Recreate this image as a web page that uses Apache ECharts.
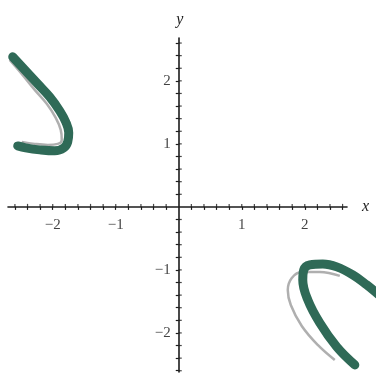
<!DOCTYPE html>
<html>
<head>
<meta charset="utf-8">
<script src="https://cdn.jsdelivr.net/npm/echarts@6/dist/echarts.min.js"></script>
<style>
  html, body { margin: 0; padding: 0; background: #ffffff; }
  #chart { width: 376px; height: 380px; }
</style>
</head>
<body>
<div id="chart"></div>
<script>
// Axis ranges
const xRange = [-2.71, 2.67];
const yRange = [-2.62, 2.68];
// Wider horizontal range for the curve layer, same scale as the axes
const curveXRange = [-2.71, 3.6];

// Labelled values and tick positions
const xLabels = [-2, -1, 1, 2];
const yLabels = [-2, -1, 1, 2];
const xTicks = [-2.6, -2.4, -2.2, -2, -1.8, -1.6, -1.4, -1.2, -1, -0.8, -0.6, -0.4, -0.2,
                0.2, 0.4, 0.6, 0.8, 1, 1.2, 1.4, 1.6, 1.8, 2, 2.2, 2.4, 2.6];
const yTicks = [-2.6, -2.4, -2.2, -2, -1.8, -1.6, -1.4, -1.2, -1, -0.8, -0.6, -0.4, -0.2,
                0.2, 0.4, 0.6, 0.8, 1, 1.2, 1.4, 1.6, 1.8, 2, 2.2, 2.4, 2.6];

// Upper-left branch
const branchLeftX = [-2.635, -2.444, -2.238, -2.048, -1.889, -1.794, -1.746, -1.762, -1.825, -1.968, -2.206, -2.429, -2.556];
const branchLeftY = [2.381, 2.175, 1.952, 1.746, 1.524, 1.349, 1.175, 1.032, 0.937, 0.889, 0.905, 0.937, 0.968];
const traceLeftX = [-2.683, -2.492, -2.286, -2.095, -1.952, -1.873, -1.857, -1.921, -2.079, -2.286, -2.492];
const traceLeftY = [2.333, 2.111, 1.857, 1.635, 1.413, 1.222, 1.063, 1.000, 0.984, 1.000, 1.032];

// Lower-right branch
const branchRightX = [2.794, 2.508, 2.238, 2.048, 1.968, 1.984, 2.079, 2.286, 2.508, 2.762, 2.984, 3.159, 3.381];
const branchRightY = [-2.508, -2.222, -1.841, -1.476, -1.159, -1.000, -0.921, -0.905, -0.952, -1.079, -1.238, -1.381, -1.556];
const traceRightX = [2.556, 2.238, 1.952, 1.794, 1.730, 1.778, 1.952, 2.206, 2.476];
const traceRightY = [-1.095, -1.032, -1.032, -1.127, -1.317, -1.556, -1.889, -2.190, -2.429];

const zip = (xs, ys) => xs.map((x, i) => [x, ys[i]]);
const zeros = arr => arr.map(() => 0);

const serif = '"Liberation Serif", "DejaVu Serif", serif';
const axisColor = '#1c1c1c';
const minus = v => String(v).replace('-', '\u2212');
const green = '#2f6a57';

const gridLeft = 8, gridTop = 38, gridW = 339, gridH = 334;
const pxPerUnit = gridW / (xRange[1] - xRange[0]);

function axis(range, ticks, name, isX) {
  return {
    type: 'value',
    gridIndex: 0,
    min: range[0],
    max: range[1],
    position: isX ? 'bottom' : 'left',
    name: name,
    nameLocation: 'end',
    nameGap: isX ? 15 : 10,
    nameTextStyle: {
      fontFamily: serif, fontStyle: 'italic', fontSize: 16, color: axisColor,
      padding: isX ? [8, 0, 0, 0] : [0, 0, 0, 2]
    },
    axisLine: { show: true, onZero: true, lineStyle: { color: axisColor, width: 1.6 } },
    axisTick: { show: true, customValues: ticks, length: 3, lineStyle: { color: axisColor, width: 1.2 } },
    axisLabel: { show: false },
    splitLine: { show: false }
  };
}

function hiddenAxis(range) {
  return {
    type: 'value', gridIndex: 1, min: range[0], max: range[1],
    axisLine: { show: false }, axisTick: { show: false }, axisLabel: { show: false }, splitLine: { show: false }
  };
}

const tickStyle = { color: axisColor };
const labelText = {
  fontFamily: serif, fontSize: 15, color: '#111',
  formatter: p => minus(p.value[p.seriesIndex === 2 ? 0 : 1])
};

const curve = (xs, ys, style, z) => ({
  type: 'line', xAxisIndex: 1, yAxisIndex: 1, data: zip(xs, ys), smooth: 0.4,
  showSymbol: false, clip: false, z: z, lineStyle: style
});
const traceStyle = { color: 'rgba(110,110,110,0.55)', width: 2.5 };
const branchStyle = { color: green, width: 9, cap: 'round', join: 'round' };

const chart = echarts.init(document.getElementById('chart'), null, { renderer: 'canvas' });
chart.setOption({
  animation: false,
  backgroundColor: '#ffffff',
  grid: [
    { left: gridLeft, top: gridTop, width: gridW, height: gridH, outerBoundsMode: 'none', containLabel: false },
    {
      left: gridLeft, top: gridTop, height: gridH,
      width: pxPerUnit * (curveXRange[1] - curveXRange[0]),
      outerBoundsMode: 'none', containLabel: false
    }
  ],
  xAxis: [axis(xRange, xTicks, 'x', true), hiddenAxis(curveXRange)],
  yAxis: [axis(yRange, yTicks, 'y', false), hiddenAxis(yRange)],
  series: [
    // tick marks on the other side of each axis line
    {
      type: 'scatter', data: zip(xTicks, zeros(xTicks)), symbol: 'rect', symbolSize: [1.2, 3],
      symbolOffset: [0, -1.5], itemStyle: tickStyle, silent: true, z: 1
    },
    {
      type: 'scatter', data: zip(zeros(yTicks), yTicks), symbol: 'rect', symbolSize: [3, 1.2],
      symbolOffset: [1.5, 0], itemStyle: tickStyle, silent: true, z: 1
    },
    // tick labels sitting on the axes
    {
      type: 'scatter', data: zip(xLabels, zeros(xLabels)), symbolSize: 0, silent: true, z: 1,
      label: Object.assign({ show: true, position: 'bottom', distance: 11 }, labelText)
    },
    {
      type: 'scatter', data: zip(zeros(yLabels), yLabels), symbolSize: 0, silent: true, z: 1,
      label: Object.assign({ show: true, position: 'left', distance: 8 }, labelText)
    },
    // curves
    curve(traceLeftX, traceLeftY, traceStyle, 2),
    curve(traceRightX, traceRightY, traceStyle, 2),
    curve(branchLeftX, branchLeftY, branchStyle, 3),
    curve(branchRightX, branchRightY, branchStyle, 3)
  ]
});
</script>
</body>
</html>
